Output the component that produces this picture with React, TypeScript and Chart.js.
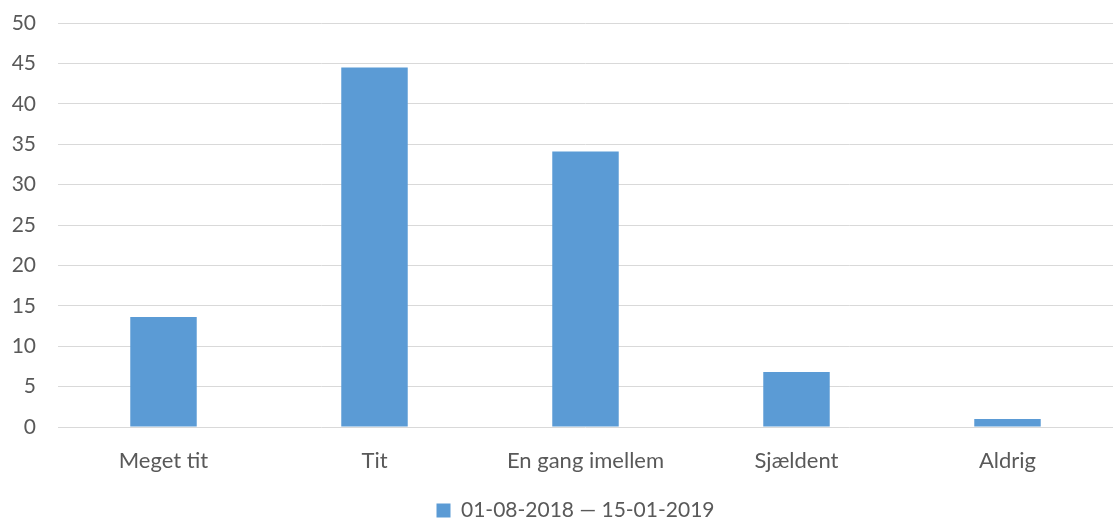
import React, { useEffect, useRef } from "react";
import { Chart, registerables } from "chart.js";

Chart.register(...registerables);

const categories = ["Meget tit", "Tit", "En gang imellem", "Sjældent", "Aldrig"];
const seriesLabel = "01-08-2018 — 15-01-2019";
const seriesValues = [13.6, 44.5, 34.1, 6.8, 1.0];
const yMin = 0;
const yMax = 50;
const yStep = 5;

export default function App() {
  const ref = useRef<HTMLCanvasElement | null>(null);

  useEffect(() => {
    document.body.style.margin = "0";
    const ctx = ref.current;
    if (!ctx) return;
    const fam = "Lato, 'Open Sans', sans-serif";
    const shiftLegend = {
      id: "shiftLegend",
      afterUpdate(chart: any) {
        const lg = chart.legend;
        if (lg) {
          lg.left += 19;
          lg.right += 19;
        }
      },
    };
    const chart = new Chart(ctx, {
      type: "bar",
      data: {
        labels: categories,
        datasets: [
          {
            label: seriesLabel,
            data: seriesValues,
            backgroundColor: "#5B9BD5",
            borderWidth: 0,
            barPercentage: 0.315,
            categoryPercentage: 1,
          },
        ],
      },
      plugins: [shiftLegend],
      options: {
        animation: false,
        responsive: false,
        maintainAspectRatio: false,
        layout: { padding: { top: 23, right: 0, left: 0, bottom: -8 } },
        plugins: {
          tooltip: { enabled: false },
          legend: {
            position: "bottom",
            labels: {
              color: "#595959",
              font: { family: fam, size: 21 },
              boxWidth: 14,
              boxHeight: 14,
              padding: 8,
            },
          },
        },
        scales: {
          x: {
            grid: { display: false, drawTicks: false },
            border: { display: false },
            ticks: { color: "#595959", font: { family: fam, size: 22 }, padding: 21 },
            afterFit: (s: any) => {
              s.height = 65;
              s.paddingLeft = 0;
              s.paddingRight = 0;
            },
          },
          y: {
            min: yMin,
            max: yMax,
            grid: { color: "#d9d9d9", lineWidth: 1, drawTicks: false },
            border: { display: false },
            ticks: { color: "#595959", font: { family: fam, size: 21 }, padding: 22, stepSize: yStep },
            afterFit: (s: any) => {
              s.width = 58;
              s.paddingTop = 0;
              s.paddingBottom = 0;
            },
          },
        },
      },
    });
    return () => chart.destroy();
  }, []);

  return (
    <div style={{ width: 1113, height: 523 }}>
      <canvas ref={ref} width={1113} height={523} />
    </div>
  );
}
